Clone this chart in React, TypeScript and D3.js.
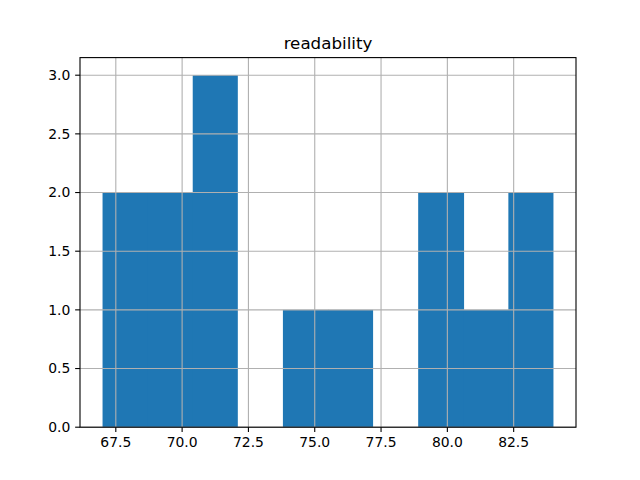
import React from "react";
import * as d3 from "d3";

const binEdges = [67.0, 68.7, 70.4, 72.1, 73.8, 75.5, 77.2, 78.9, 80.6, 82.3, 84.0];
const counts = [2, 2, 3, 0, 1, 1, 0, 2, 1, 2];
const xTicks = [67.5, 70.0, 72.5, 75.0, 77.5, 80.0, 82.5];
const yTicks = [0.0, 0.5, 1.0, 1.5, 2.0, 2.5, 3.0];
const title = "readability";

export default function App() {
  const W = 640, H = 480;
  const left = 80, right = 576, top = 57.6, bottom = 427.2;
  const xmin = binEdges[0], xmax = binEdges[binEdges.length - 1];
  const pad = (xmax - xmin) * 0.05;
  const x = d3.scaleLinear().domain([xmin - pad, xmax + pad]).range([left, right]);
  const ymax = d3.max(counts)! * 1.05;
  const y = d3.scaleLinear().domain([0, ymax]).range([bottom, top]);
  const font = "DejaVu Sans, sans-serif";
  const tickLen = 4.86;
  const bars = counts.map((c, i) => ({ x0: binEdges[i], x1: binEdges[i + 1], c }));
  return (
    <svg width={W} height={H} style={{ position: "absolute", left: 0, top: 0, background: "#fff" }}>
      <rect x={0} y={0} width={W} height={H} fill="#fff" />
      {bars.map((b, i) => {
        if (b.c <= 0) return null;
        const next = bars[i + 1];
        const extend = next && next.c > 0 ? 0.8 : 0;
        return (
          <rect key={i} x={x(b.x0)} y={y(b.c)} width={x(b.x1) - x(b.x0) + extend} height={y(0) - y(b.c)} fill="#1f77b4" />
        );
      })}
      {xTicks.map((t) => (
        <line key={"gx" + t} x1={x(t)} x2={x(t)} y1={top} y2={bottom} stroke="#b0b0b0" strokeWidth={1.1} />
      ))}
      {yTicks.map((t) => (
        <line key={"gy" + t} x1={left} x2={right} y1={y(t)} y2={y(t)} stroke="#b0b0b0" strokeWidth={1.1} />
      ))}
      <rect x={left} y={top} width={right - left} height={bottom - top} fill="none" stroke="#000" strokeWidth={1.1} />
      {xTicks.map((t) => (
        <g key={"tx" + t}>
          <line x1={x(t)} x2={x(t)} y1={bottom} y2={bottom + tickLen} stroke="#000" strokeWidth={1.1} />
          <text x={x(t)} y={bottom + tickLen + 4.86 + 10.5} textAnchor="middle" fontFamily={font} fontSize={13.9} fill="#000">
            {t.toFixed(1)}
          </text>
        </g>
      ))}
      {yTicks.map((t) => (
        <g key={"ty" + t}>
          <line x1={left - tickLen} x2={left} y1={y(t)} y2={y(t)} stroke="#000" strokeWidth={1.1} />
          <text x={left - tickLen - 4.86} y={y(t)} dy="0.35em" textAnchor="end" fontFamily={font} fontSize={13.9} fill="#000">
            {t.toFixed(1)}
          </text>
        </g>
      ))}
      <text x={(left + right) / 2} y={top - 8.3} textAnchor="middle" fontFamily={font} fontSize={16.7} fill="#000">
        {title}
      </text>
    </svg>
  );
}
